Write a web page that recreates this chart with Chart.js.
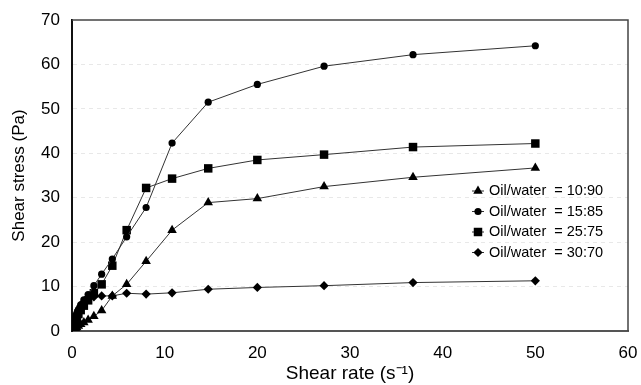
<!DOCTYPE html>
<html>
<head>
<meta charset="utf-8">
<script src="https://cdn.jsdelivr.net/npm/chart.js@4.4.1/dist/chart.umd.min.js"></script>
<style>
  html, body { margin: 0; padding: 0; background: #fff; }
  #wrap { width: 641px; height: 385px; }
</style>
</head>
<body>
<div id="wrap"><canvas id="chart" width="641" height="385"></canvas></div>
<script>
// shear rate sweep (1/s) shared by all four emulsions
const shearRate = [0.11, 0.15, 0.2, 0.28, 0.38, 0.51, 0.69, 0.94, 1.28, 1.74, 2.36, 3.2, 4.35, 5.9, 8.0, 10.8, 14.7, 20.0, 27.2, 36.8, 50.0];

// shear stress (Pa) per oil/water ratio
const stress1090 = [0.2, 0.25, 0.3, 0.4, 0.6, 0.8, 1.1, 1.5, 1.9, 2.5, 3.3, 4.6, 7.9, 10.5, 15.7, 22.7, 28.9, 29.8, 32.5, 34.6, 36.7];
const stress1585 = [1.0, 1.4, 1.8, 2.4, 3.1, 3.9, 4.8, 5.9, 7.0, 8.2, 10.2, 12.8, 16.2, 21.2, 27.8, 42.3, 51.5, 55.5, 59.6, 62.2, 64.2];
const stress2575 = [0.6, 0.9, 1.2, 1.7, 2.3, 3.0, 3.8, 4.7, 5.7, 6.9, 8.5, 10.5, 14.7, 22.7, 32.2, 34.3, 36.6, 38.5, 39.7, 41.4, 42.2];
const stress3070 = [0.8, 1.1, 1.5, 2.2, 3.0, 3.8, 4.7, 5.6, 6.5, 7.2, 7.7, 7.9, 7.9, 8.5, 8.3, 8.6, 9.4, 9.8, 10.2, 10.9, 11.3];

const seriesLabels = ["Oil/water  = 10:90", "Oil/water  = 15:85", "Oil/water  = 25:75", "Oil/water  = 30:70"];
const xTicks = [0, 10, 20, 30, 40, 50, 60];
const yTicks = [0, 10, 20, 30, 40, 50, 60, 70];

const fontFamily = "'Liberation Sans', Arial, sans-serif";

function toPoints(ys) {
  return shearRate.map((x, i) => ({ x: x, y: ys[i] }));
}

function series(label, ys, style, radius) {
  return {
    label: label,
    data: toPoints(ys),
    borderColor: "#333",
    borderWidth: 1,
    backgroundColor: "#000",
    pointBackgroundColor: "#000",
    pointBorderColor: "#000",
    pointBorderWidth: 0,
    pointStyle: style,
    pointRadius: radius,
    tension: 0,
    fill: false,
  };
}

const datasets = [
  series(seriesLabels[0], stress1090, "triangle", 5.5),
  series(seriesLabels[1], stress1585, "circle", 3.6),
  series(seriesLabels[2], stress2575, "rect", 6),
  series(seriesLabels[3], stress3070, "rectRot", 4.6),
];

// box around the plot area (top and right edges)
const frame = {
  id: "frame",
  afterDraw(chart) {
    const a = chart.chartArea;
    const ctx = chart.ctx;
    ctx.save();
    ctx.strokeStyle = "#444";
    ctx.lineWidth = 1.5;
    ctx.beginPath();
    ctx.moveTo(a.left, a.top);
    ctx.lineTo(a.right, a.top);
    ctx.lineTo(a.right, a.bottom);
    ctx.stroke();
    ctx.restore();
  },
};

// legend drawn inside the plot, right side
const insideLegend = {
  id: "insideLegend",
  afterDatasetsDraw(chart) {
    const ctx = chart.ctx;
    const x0 = 478;
    const y0 = 191;
    const rowH = 20.5;
    ctx.save();
    ctx.font = "14.5px " + fontFamily;
    ctx.textBaseline = "middle";
    chart.data.datasets.forEach((ds, i) => {
      const y = y0 + i * rowH;
      ctx.strokeStyle = "#333";
      ctx.lineWidth = 1;
      ctx.beginPath();
      ctx.moveTo(x0 - 6, y);
      ctx.lineTo(x0 + 6, y);
      ctx.stroke();
      ctx.fillStyle = "#000";
      Chart.helpers.drawPoint(ctx, {
        pointStyle: ds.pointStyle,
        radius: ds.pointRadius,
        rotation: 0,
        borderWidth: 0,
      }, x0, y);
      ctx.fillStyle = "#000";
      ctx.fillText(ds.label, x0 + 11, y);
    });
    ctx.restore();
  },
};

const ctx = document.getElementById("chart").getContext("2d");
const myChart = new Chart(ctx, {
  type: "line",
  data: { datasets: datasets },
  plugins: [frame, insideLegend],
  options: {
    responsive: false,
    animation: false,
    layout: {
      padding: { left: 0, right: 13, top: 20, bottom: 0 },
    },
    plugins: {
      legend: { display: false },
      tooltip: { enabled: false },
    },
    scales: {
      x: {
        type: "linear",
        min: xTicks[0],
        max: xTicks[xTicks.length - 1],
        afterBuildTicks: (scale) => { scale.ticks = xTicks.map((v) => ({ value: v })); },
        afterFit: (scale) => {
          scale.height = 54;
          scale.paddingLeft = 0;
          scale.paddingRight = 0;
        },
        grid: { display: false, drawTicks: false },
        border: { display: true, color: "#555", width: 2 },
        ticks: {
          color: "#000",
          padding: 12,
          font: { family: fontFamily, size: 17 },
        },
        title: {
          display: true,
          text: "Shear rate (s\u207B\u00B9)",
          color: "#000",
          padding: { top: 0, bottom: 0 },
          font: { family: fontFamily, size: 19 },
        },
      },
      y: {
        type: "linear",
        min: yTicks[0],
        max: yTicks[yTicks.length - 1],
        afterBuildTicks: (scale) => { scale.ticks = yTicks.map((v) => ({ value: v })); },
        afterFit: (scale) => {
          scale.width = 72;
          scale.paddingTop = 0;
          scale.paddingBottom = 0;
        },
        grid: {
          display: true,
          drawTicks: false,
          // faint dashed guides at the inner ticks only
          color: (c) => (c.tick && c.tick.value > 0 && c.tick.value < 70 ? "rgba(0,0,0,0.09)" : "rgba(0,0,0,0)"),
          lineWidth: 1,
        },
        border: { display: true, color: "#111", width: 2, dash: [4, 4] },
        ticks: {
          color: "#000",
          padding: 12,
          font: { family: fontFamily, size: 17 },
        },
        title: {
          display: true,
          text: "Shear stress (Pa)",
          color: "#000",
          padding: { top: 9, bottom: 0 },
          font: { family: fontFamily, size: 17 },
        },
      },
    },
  },
});
</script>
</body>
</html>
